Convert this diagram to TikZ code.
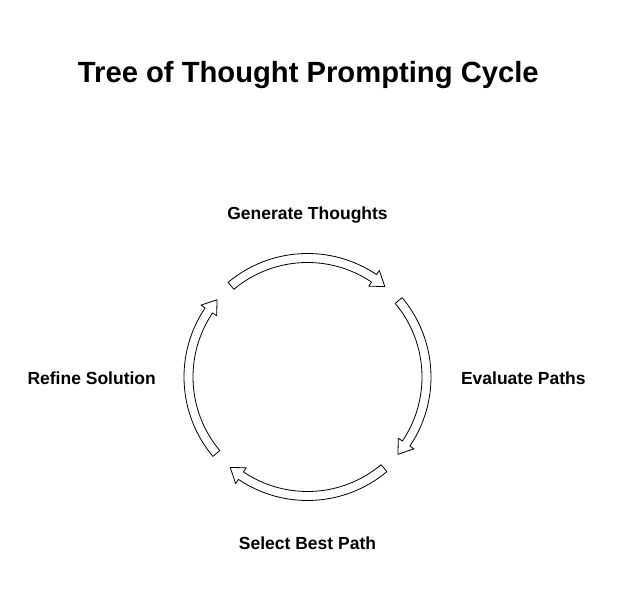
\documentclass[tikz,border=0pt]{standalone}
\usepackage{fontspec}
\setmainfont{Liberation Sans}
\begin{document}
\begin{tikzpicture}[x=1pt,y=1pt,line join=round,line cap=round,
 font=\bfseries\fontsize{17.5}{21}\selectfont]
 \def \rmid{119}\def \rin{114.5}\def \rout{123.5}\def \hin{109.5}\def \hout{128.5}
 \useasboundingbox (-307.5,-232) rectangle (310.5,377);
 \node (title) at (0.8,302) {\fontsize{29.2}{35}\selectfont Tree of Thought Prompting Cycle};
 \node (gen) at (0,162) {Generate Thoughts};
 \node (eval) at (215.8,-1) {Evaluate Paths};
 \node (sel) at (0,-166) {Select Best Path};
 \node (ref) at (-215.8,-1) {Refine Solution};
 % curved hollow arrows, clockwise
 \foreach \a in {130,40,-50,-140}{
  \draw[line width=0.8pt,fill=white] (\a:\rout) arc[start angle=\a,end angle=\a-74,radius=\rout]
   -- (\a-74:\hout) -- (\a-80.5:\rmid) -- (\a-74:\hin) -- (\a-74:\rin)
   arc[start angle=\a-74,end angle=\a,radius=\rin] -- cycle;
 }
\end{tikzpicture}
\end{document}
